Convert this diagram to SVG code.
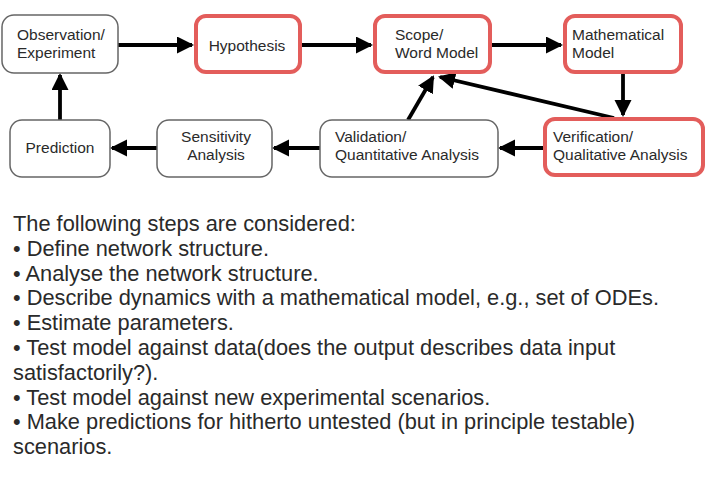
<svg xmlns="http://www.w3.org/2000/svg" width="711" height="479" viewBox="0 0 711 479">
<defs>
<style>
.box{fill:#fff;stroke:#666;stroke-width:1.5}
.hl{fill:#fff;stroke:#E35D5B;stroke-width:4}
.lbl{font-family:"Liberation Sans",Arial,sans-serif;font-size:15.5px;fill:#2a2a2a}
.c{text-anchor:middle}
.edge{stroke:#000;stroke-width:3.8;fill:none;marker-end:url(#ah)}
.body{font-family:"Liberation Sans",Arial,sans-serif;font-size:21.8px;fill:#2a2a2a}
</style>
<marker id="ah" markerUnits="userSpaceOnUse" markerWidth="18" markerHeight="18" viewBox="0 0 18 18" refX="15" refY="8.5" orient="auto">
<path d="M0,0 L17,8.5 L0,17 z" fill="#000"/>
</marker>
</defs>
<rect width="711" height="479" fill="#fff"/>
<g id="connectors">
<line class="edge" x1="118" y1="45" x2="192" y2="45"/>
<line class="edge" x1="302" y1="45" x2="371" y2="45"/>
<line class="edge" x1="492" y1="45" x2="561" y2="45"/>
<line class="edge" x1="623" y1="74" x2="623" y2="115"/>
<line class="edge" x1="543" y1="148" x2="500" y2="148"/>
<line class="edge" x1="320" y1="148" x2="274" y2="148"/>
<line class="edge" x1="157" y1="148" x2="112" y2="148"/>
<line class="edge" x1="60" y1="120" x2="60" y2="75"/>
<line class="edge" x1="408" y1="120" x2="433" y2="77"/>
<line class="edge" x1="614" y1="118" x2="440" y2="77"/>
</g>
<g id="observation">
<rect class="box" x="2" y="15" width="116" height="58" rx="12"/>
<text class="lbl" x="17" y="40">Observation/</text>
<text class="lbl" x="17" y="58">Experiment</text>
</g>
<g id="hypothesis">
<rect class="hl" x="196" y="16" width="104" height="56" rx="10"/>
<text class="lbl c" x="247" y="51">Hypothesis</text>
</g>
<g id="scope">
<rect class="hl" x="375" y="16" width="115" height="56" rx="10"/>
<text class="lbl" x="395" y="40">Scope/</text>
<text class="lbl" x="395" y="58">Word Model</text>
</g>
<g id="mathematical">
<rect class="hl" x="565" y="16" width="116" height="56" rx="10"/>
<text class="lbl" x="572" y="40">Mathematical</text>
<text class="lbl" x="572" y="58">Model</text>
</g>
<g id="verification">
<rect class="hl" x="545" y="119" width="158" height="56" rx="10"/>
<text class="lbl" x="553" y="142">Verification/</text>
<text class="lbl" x="553" y="160">Qualitative Analysis</text>
</g>
<g id="validation">
<rect class="box" x="320" y="120" width="178" height="57" rx="12"/>
<text class="lbl" x="335" y="142">Validation/</text>
<text class="lbl" x="335" y="160">Quantitative Analysis</text>
</g>
<g id="sensitivity">
<rect class="box" x="157" y="120" width="115" height="57" rx="12"/>
<text class="lbl c" x="216" y="142">Sensitivity</text>
<text class="lbl c" x="216" y="160">Analysis</text>
</g>
<g id="prediction">
<rect class="box" x="10" y="120" width="100" height="57" rx="12"/>
<text class="lbl c" x="60" y="153">Prediction</text>
</g>
<g id="steps">
<text class="body" x="13" y="231">The following steps are considered:</text>
<text class="body" x="13" y="255.8">• Define network structure.</text>
<text class="body" x="13" y="280.6">• Analyse the network structure.</text>
<text class="body" x="13" y="305.4">• Describe dynamics with a mathematical model, e.g., set of ODEs.</text>
<text class="body" x="13" y="330.2">• Estimate parameters.</text>
<text class="body" x="13" y="355">• Test model against data(does the output describes data input</text>
<text class="body" x="13" y="379.8">satisfactorily?).</text>
<text class="body" x="13" y="404.6">• Test model against new experimental scenarios.</text>
<text class="body" x="13" y="429.4">• Make predictions for hitherto untested (but in principle testable)</text>
<text class="body" x="13" y="454.2">scenarios.</text>
</g>
</svg>
